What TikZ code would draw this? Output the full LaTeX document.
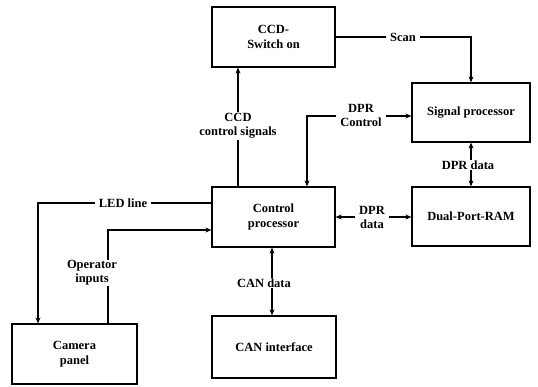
\documentclass[tikz,border=0pt]{standalone}
\usepackage{fontspec}
\setmainfont{Liberation Serif}
\usetikzlibrary{arrows.meta}
\tikzset{
  box/.style={draw, line width=1.2pt, rectangle, minimum width=123pt, minimum height=60pt, align=center, inner sep=0pt, font=\fontsize{12.5}{15}\selectfont\bfseries},
  lbl/.style={fill=white, align=center, inner xsep=4pt, inner ysep=1pt, font=\fontsize{12.5}{14}\selectfont\bfseries},
  conn/.style={line width=1.1pt},
  arr/.style={conn, -{Stealth[length=6pt,width=5pt]}},
  darr/.style={conn, {Stealth[length=6pt,width=5pt]}-{Stealth[length=6pt,width=5pt]}}
}
\begin{document}
\begin{tikzpicture}[x=1pt,y=-1pt]
\useasboundingbox (0,0) rectangle (538,386);
% boxes
\node[box] (ccd) at (273.5,37) {CCD-\\Switch on};
\node[box, minimum width=118pt, minimum height=59pt] (sig) at (471,112.5) {Signal processor};
\node[box] (ctrl) at (273.5,217) {Control\\processor};
\node[box, minimum width=118pt, minimum height=59pt] (dpr) at (471,216.5) {Dual-Port-RAM};
\node[box, minimum width=125pt] (cam) at (74.5,354) {Camera\\panel};
\node[box, minimum width=124pt, minimum height=62pt] (can) at (274,347) {CAN interface};
% connectors
\draw[arr] (ccd.east) -| (sig.north);
\node[lbl] (lscan) at (403,37) {Scan};
\draw[arr] ([xshift=-35.5pt]ctrl.north) -- ([xshift=-35.5pt]ccd.south);
\node[lbl] (lccd) at (238,126) {CCD\\control signals};
\draw[darr] ([xshift=33.5pt]ctrl.north) |- ([yshift=-3.5pt]sig.west);
\node[lbl] (ldprc) at (361,115) {DPR\\Control};
\draw[darr] (sig.south) -- (dpr.north);
\node[lbl] (ldprd1) at (468,165) {DPR data};
\draw[darr] (ctrl.east) -- (ctrl.east -| dpr.west);
\node[lbl] (ldprd2) at (372,217) {DPR\\data};
\draw[arr] ([yshift=14pt]ctrl.west) -| ([xshift=-36.5pt]cam.north);
\node[lbl] (lled) at (123,203) {LED line};
\draw[arr] ([xshift=33.5pt]cam.north) |- ([yshift=-13pt]ctrl.west);
\node[lbl, inner xsep=1pt] (lop) at (92,273) {Operator\\inputs};
\draw[darr] ([xshift=-1.5pt]ctrl.south) -- ([xshift=-1.5pt]ctrl.south |- can.north);
\node[lbl, inner xsep=1pt] (lcan) at (264,283) {CAN data};
\end{tikzpicture}
\end{document}
